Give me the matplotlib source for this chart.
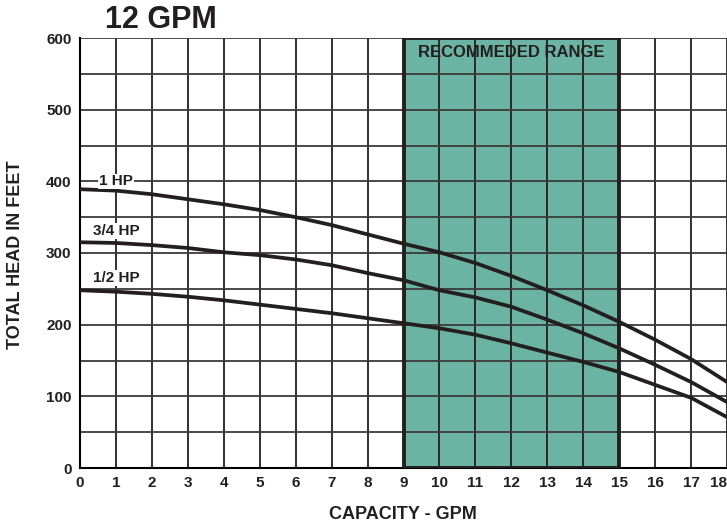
import matplotlib
matplotlib.use('Agg')
import matplotlib.pyplot as plt
import numpy as np
from matplotlib.patches import Rectangle

# capacity (GPM) and head (ft)
gpm = [0, 1, 2, 3, 4, 5, 6, 7, 8, 9, 10, 11, 12, 13, 14, 15, 16, 17, 18]
hp_1 = [389, 387, 382, 375, 368, 360, 350, 339, 326, 313, 301, 286, 268, 248, 227, 204, 179, 152, 120]
hp_34 = [315, 314, 311, 307, 301, 297, 291, 283, 272, 262, 248, 238, 225, 207, 188, 167, 144, 120, 92]
hp_12 = [248, 246, 243, 239, 234, 228, 222, 216, 209, 202, 195, 186, 174, 161, 148, 134, 116, 98, 71]

range_lo, range_hi = 9, 15
x_ticks = list(range(0, 19))
y_ticks = [0, 100, 200, 300, 400, 500, 600]

plt.rcParams['font.family'] = ['Liberation Sans', 'DejaVu Sans']
ink = '#231f20'

fig = plt.figure(figsize=(7.27, 5.27), dpi=100)
ax = fig.add_axes([80/727, 1-468/527, 647/727, 430/527])

# recommended range box
ax.add_patch(Rectangle((range_lo, 0), range_hi-range_lo, 600, facecolor='#6bb3a2',
                       edgecolor='none', zorder=0))
ax.add_patch(Rectangle((range_lo, 0), range_hi-range_lo, 600, facecolor='none',
                       edgecolor=ink, linewidth=2.8, zorder=3))
ax.text((range_lo+range_hi)/2, 580, 'RECOMMEDED RANGE', ha='center', va='center',
        fontsize=12, fontweight='bold', color=ink, zorder=4)

# grid
for v in x_ticks:
    ax.axvline(v, color=ink, lw=1.3, zorder=1)
for h in range(0, 601, 50):
    ax.axhline(h, color='#3a3a3a', lw=1.3, zorder=1)

ax.plot(gpm, hp_1, color=ink, lw=2.7, zorder=5)
ax.plot(gpm, hp_34, color=ink, lw=2.7, zorder=5)
ax.plot(gpm, hp_12, color=ink, lw=2.7, zorder=5)

lbl = dict(ha='center', va='center', fontsize=11, fontweight='bold', color=ink, zorder=6,
           bbox=dict(facecolor='white', edgecolor='none', pad=0.5))
ax.text(1.0, 400, '1 HP', **lbl)
ax.text(1.0, 331, '3/4 HP', **lbl)
ax.text(1.0, 265, '1/2 HP', **lbl)

ax.set_xlim(0, 18)
ax.set_ylim(0, 600)
ax.set_xticks(x_ticks)
ax.set_yticks(y_ticks)
ax.tick_params(length=0, labelsize=11, pad=6)
for t in ax.get_xticklabels() + ax.get_yticklabels():
    t.set_fontweight('bold')
    t.set_color(ink)
ax.get_xticklabels()[-1].set_horizontalalignment('right')
for s in ['top', 'right']:
    ax.spines[s].set_visible(False)
ax.spines['left'].set_linewidth(1.5)
ax.spines['bottom'].set_linewidth(1.5)

ax.set_xlabel('CAPACITY - GPM', fontsize=13, fontweight='bold', color=ink)
ax.set_ylabel('TOTAL HEAD IN FEET', fontsize=13, fontweight='bold', color=ink)
ax.xaxis.set_label_coords((403-80)/647, -(506-468)/430)
ax.yaxis.set_label_coords((24-80)/647, (468-255)/430)

fig.text(105/727, 1-20/527, '12 GPM', fontsize=22, fontweight='bold',
         ha='left', va='center', color=ink)

fig.savefig('out.png', dpi=100)
